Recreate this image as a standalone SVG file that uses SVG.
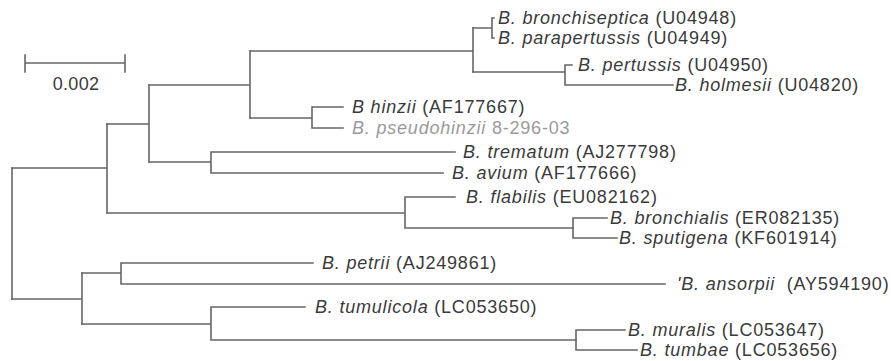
<svg xmlns="http://www.w3.org/2000/svg" width="891" height="361" viewBox="0 0 891 361">
<style>
.br{fill:none;stroke:#666666;stroke-width:1.6;stroke-linecap:square}
.lb{font-family:"Liberation Sans",Arial,sans-serif;font-size:18px;letter-spacing:0.8px;fill:#3a3a3a}
.lb .sp{font-style:italic}
.gr{fill:#9a9a9a}
</style>
<rect width="891" height="361" fill="#ffffff"/>
<g id="scale">
<path class="br" d="M25,63H125M25,55V72M125,55V72"/>
<text class="lb" x="76" y="90" text-anchor="middle" style="letter-spacing:0.3px">0.002</text>
</g>
<g id="connectors">
<path class="br" d="M12,168V299"/>
<path class="br" d="M12,168H107M107,124V213"/>
<path class="br" d="M107,124H149M149,85V162"/>
<path class="br" d="M149,85H250M250,51V118"/>
<path class="br" d="M250,51H473M473,28V72"/>
<path class="br" d="M473,28H492M492,18V38M492,18H494M492,38H494"/>
<path class="br" d="M473,72H565M565,65V85M565,65H572M565,85H673"/>
<path class="br" d="M250,118H312M312,107V128M312,107H343M312,128H343"/>
<path class="br" d="M149,162H211M211,152V173M211,152H455M211,173H443"/>
<path class="br" d="M107,213H405M405,197V228M405,197H455M405,228H573"/>
<path class="br" d="M573,218V238M573,218H607M573,238H617"/>
<path class="br" d="M12,299H82M82,273V324"/>
<path class="br" d="M82,273H121M121,263V284M121,263H313M121,284H665"/>
<path class="br" d="M82,324H211M211,307V340M211,307H305M211,340H576"/>
<path class="br" d="M576,330V350M576,330H625M576,350H637"/>
</g>
<g id="n-bronchiseptica"><text class="lb" x="498" y="24"><tspan class="sp">B. bronchiseptica</tspan> (U04948)</text></g>
<g id="n-parapertussis"><text class="lb" x="498" y="44"><tspan class="sp">B. parapertussis</tspan> (U04949)</text></g>
<g id="n-pertussis"><text class="lb" x="578" y="71"><tspan class="sp">B. pertussis</tspan> (U04950)</text></g>
<g id="n-holmesii"><text class="lb" x="675" y="91"><tspan class="sp">B. holmesii</tspan> (U04820)</text></g>
<g id="n-hinzii"><text class="lb" x="352" y="113"><tspan class="sp">B hinzii</tspan> (AF177667)</text></g>
<g id="n-pseudohinzii"><text class="lb gr" x="352" y="134"><tspan class="sp">B. pseudohinzii</tspan> 8-296-03</text></g>
<g id="n-trematum"><text class="lb" x="463" y="158"><tspan class="sp">B. trematum</tspan> (AJ277798)</text></g>
<g id="n-avium"><text class="lb" x="452" y="179"><tspan class="sp">B. avium</tspan> (AF177666)</text></g>
<g id="n-flabilis"><text class="lb" x="466" y="203"><tspan class="sp">B. flabilis</tspan> (EU082162)</text></g>
<g id="n-bronchialis"><text class="lb" x="610" y="224"><tspan class="sp">B. bronchialis</tspan> (ER082135)</text></g>
<g id="n-sputigena"><text class="lb" x="619" y="244"><tspan class="sp">B. sputigena</tspan> (KF601914)</text></g>
<g id="n-petrii"><text class="lb" x="322" y="269"><tspan class="sp">B. petrii</tspan> (AJ249861)</text></g>
<g id="n-ansorpii"><text class="lb" x="677" y="290" xml:space="preserve"><tspan class="sp">'B. ansorpii</tspan>  (AY594190)</text></g>
<g id="n-tumulicola"><text class="lb" x="315" y="313"><tspan class="sp">B. tumulicola</tspan> (LC053650)</text></g>
<g id="n-muralis"><text class="lb" x="628" y="336"><tspan class="sp">B. muralis</tspan> (LC053647)</text></g>
<g id="n-tumbae"><text class="lb" x="640" y="356"><tspan class="sp">B. tumbae</tspan> (LC053656)</text></g>
</svg>
